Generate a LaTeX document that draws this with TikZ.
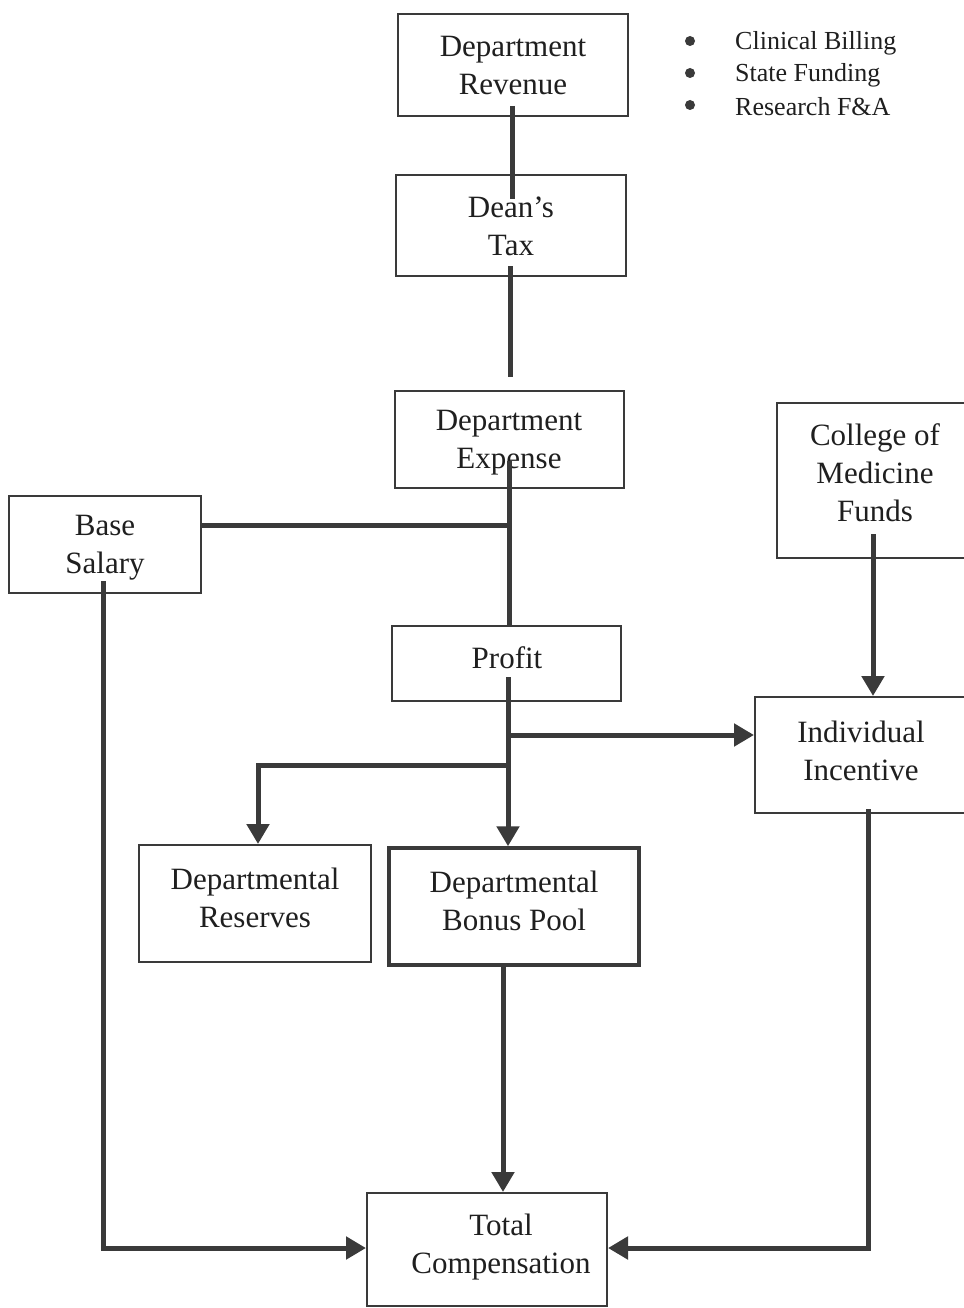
\documentclass[tikz,border=0pt]{standalone}
\usepackage{fontspec}
\setmainfont{Liberation Serif}
\usetikzlibrary{arrows.meta,calc}
\definecolor{ink}{HTML}{3A3A3A}
\begin{document}
\begin{tikzpicture}[x=1pt,y=-1pt,
  box/.style={draw=ink, line width=2pt, inner sep=0pt, rectangle},
  lbl/.style={align=center, font=\fontsize{31}{38}\selectfont, text=black!88, inner sep=0pt},
  blt/.style={anchor=west, font=\fontsize{26}{32}\selectfont, text=black!88, inner sep=0pt},
  dot/.style={circle, fill=ink, inner sep=0pt, minimum size=10pt},
  conn/.style={draw=ink, line width=5pt},
  arr/.style={conn, -{Triangle[length=20pt,width=22pt]}},
]
\fill[white] (0,0) rectangle (963,1308);
\useasboundingbox (0,0) rectangle (963,1308);

% boxes
\node[box, minimum width=230pt, minimum height=102pt] (rev) at (513,65) {};
\node[box, minimum width=230pt, minimum height=101pt] (dean) at (511,225.5) {};
\node[box, minimum width=229pt, minimum height=97pt] (exp) at (509.5,439.5) {};
\node[box, minimum width=196pt, minimum height=155pt] (com) at (875,480.5) {};
\node[box, minimum width=192pt, minimum height=97pt] (base) at (105,544.5) {};
\node[box, minimum width=229pt, minimum height=75pt] (prof) at (506.5,663.5) {};
\node[box, minimum width=212pt, minimum height=116pt] (ind) at (861,755) {};
\node[box, minimum width=232pt, minimum height=117pt] (res) at (255,903.5) {};
\node[box, line width=3.5pt, minimum width=250pt, minimum height=117pt] (bon) at (514,906.5) {};
\node[box, minimum width=240pt, minimum height=113pt] (tot) at (487,1249.5) {};

% labels
\node[lbl] (revt) at (513,66) {Department\\Revenue};
\node[lbl] (deant) at (511,226) {Dean’s\\Tax};
\node[lbl] (expt) at (509,443) {Department\\Expense};
\node[lbl] (comt) at (875,473) {College of\\Medicine\\Funds};
\node[lbl] (baset) at (105,548) {Base\\Salary};
\node[lbl] (proft) at (507,658) {Profit};
\node[lbl] (indt) at (861,751) {Individual\\Incentive};
\node[lbl] (rest) at (255,898) {Departmental\\Reserves};
\node[lbl] (bont) at (514,901) {Departmental\\Bonus Pool};
\node[lbl] (tott) at (501,1247) {Total\\Compensation};

% bullet list
\node[dot] (d1) at (690,41) {};
\node[dot] (d2) at (690,73) {};
\node[dot] (d3) at (690,105) {};
\node[blt] (l1) at (735,43) {Clinical Billing};
\node[blt] (l2) at (735,75) {State Funding};
\node[blt] (l3) at (735,107) {Research F\&A};

% connectors
\coordinate (r0) at ($(rev.south)+(-1,-11)$);
\draw[conn] (r0) -- ($(r0 |- dean.north)+(0,25)$);
\coordinate (r1) at ($(dean.south)+(-1,-11)$);
\draw[conn] (r1) -- ($(r1 |- exp.north)+(0,-13)$);
\coordinate (j1) at (509,525);
\draw[conn] ($(exp.south)+(-0.5,-28)$) -- (prof.north -| j1);
\draw[conn] ($(base.east)+(0,-19.5)$) -- (j1);

\coordinate (p0) at ($(prof.south)+(1.5,-25)$);
\coordinate (j2) at (508,735);
\coordinate (j3) at (508,765);
\coordinate (k3) at (258,765);
\draw[arr] (p0) -- (p0 |- bon.north);
\draw[arr] (j2) -- (j2 -| ind.west);
\draw[arr] (j3) -- (k3) -- (k3 |- res.north);

\coordinate (c1) at ($(com.south)+(-2,-25)$);
\draw[arr] (c1) -- (c1 |- ind.north);

\coordinate (b1) at ($(base.south)+(-2,-13)$);
\draw[arr] (b1) |- ($(tot.west)+(0,-1.5)$);
\coordinate (b2) at ($(bon.south)+(-11,0)$);
\draw[arr] (b2) -- (b2 |- tot.north);
\coordinate (i1) at ($(ind.south)+(7,-5)$);
\draw[arr] (i1) |- ($(tot.east)+(0,-1.5)$);
\end{tikzpicture}
\end{document}
